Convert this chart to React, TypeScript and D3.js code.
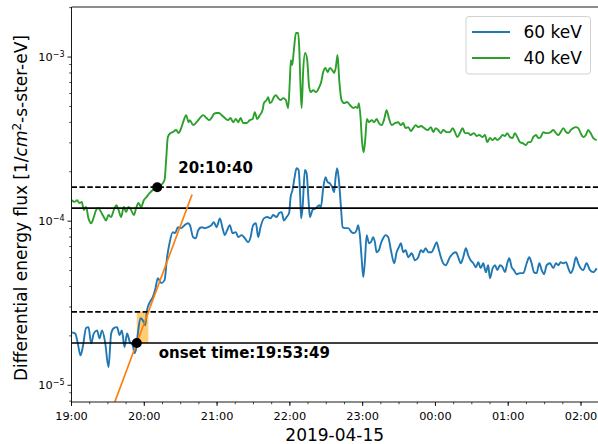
import React from 'react';
import * as d3 from 'd3';

// minutes after 19:00 and flux values
const t60 = [0.2, 3.0, 5.2, 7.4, 9.3, 12.0, 14.0, 16.2, 18.4, 21.1, 23.1, 25.2, 27.7, 30.5, 32.7, 34.9, 37.6, 39.6, 41.5, 43.7, 45.8, 48.1, 50.5, 51.9, 53.3, 54.7, 56.9, 58.8, 60.7, 62.3, 64.6, 67.0, 68.9, 71.2, 73.9, 76.7, 78.8, 80.8, 83.5, 85.4, 87.7, 90.4, 93.2, 95.9, 97.5, 100.3, 102.5, 104.4, 107.2, 109.9, 112.6, 115.4, 117.3, 119.6, 122.3, 124.5, 126.4, 128.3, 130.5, 132.8, 135.5, 137.4, 140.2, 142.9, 145.6, 147.6, 149.7, 152.0, 153.9, 155.8, 158.6, 161.3, 164.1, 166.2, 169.0, 171.2, 173.2, 175.1, 177.3, 179.4, 180.6, 182.2, 183.9, 185.5, 187.2, 188.3, 189.3, 190.5, 192.4, 193.8, 195.4, 196.5, 198.7, 201.5, 204.2, 205.6, 207.5, 209.4, 211.1, 213.0, 214.9, 216.5, 217.7, 219.0, 220.4, 222.1, 223.5, 225.4, 228.1, 230.9, 233.0, 235.0, 236.3, 237.7, 239.1, 240.5, 241.9, 243.3, 245.2, 246.8, 248.7, 250.1, 251.5, 253.4, 255.1, 256.9, 258.9, 261.1, 263.3, 266.0, 268.0, 269.9, 271.5, 273.4, 275.4, 277.6, 280.4, 283.1, 285.8, 288.0, 289.9, 291.9, 294.1, 296.9, 299.0, 301.0, 302.9, 304.5, 306.4, 308.4, 311.9, 314.7, 316.9, 318.8, 320.8, 322.9, 325.1, 327.0, 329.0, 331.2, 333.4, 335.3, 337.3, 339.4, 341.6, 343.5, 344.9, 347.2, 349.1, 351.0, 353.2, 355.4, 357.3, 359.2, 360.9, 362.8, 364.7, 366.9, 369.7, 372.4, 375.2, 377.3, 379.3, 381.2, 383.4, 385.6, 387.6, 389.5, 391.7, 394.4, 397.1, 399.4, 401.3, 403.2, 405.4, 407.6, 409.5, 411.5, 413.6, 415.8, 417.7, 419.7, 421.8, 424.6, 427.4, 430.1, 432.9];
const flux60 = [2.10e-5, 2.07e-5, 1.80e-5, 1.52e-5, 1.71e-5, 2.23e-5, 2.26e-5, 1.80e-5, 2.07e-5, 2.16e-5, 1.93e-5, 2.16e-5, 1.83e-5, 1.29e-5, 2.07e-5, 2.23e-5, 2.26e-5, 2.02e-5, 2.16e-5, 1.71e-5, 2.07e-5, 1.83e-5, 1.75e-5, 1.57e-5, 1.68e-5, 2.07e-5, 2.56e-5, 2.49e-5, 2.32e-5, 2.87e-5, 3.21e-5, 3.44e-5, 3.80e-5, 4.49e-5, 4.19e-5, 4.37e-5, 6.03e-5, 7.34e-5, 8.57e-5, 8.45e-5, 9.19e-5, 9.07e-5, 9.45e-5, 9.72e-5, 9.50e-5, 7.99e-5, 7.87e-5, 8.81e-5, 9.19e-5, 9.07e-5, 9.19e-5, 9.45e-5, 9.86e-5, 9.19e-5, 1.04e-4, 9.07e-5, 8.22e-5, 8.81e-5, 9.45e-5, 8.45e-5, 8.57e-5, 7.99e-5, 8.22e-5, 7.87e-5, 7.45e-5, 7.99e-5, 9.45e-5, 9.72e-5, 7.99e-5, 9.19e-5, 1.04e-4, 1.06e-4, 1.04e-4, 1.09e-4, 1.06e-4, 1.12e-4, 1.135e-4, 1.01e-4, 1.06e-4, 1.12e-4, 1.40e-4, 1.55e-4, 1.85e-4, 2.10e-4, 2.05e-4, 1.55e-4, 1.04e-4, 1.22e-4, 2.05e-4, 1.96e-4, 1.34e-4, 1.06e-4, 1.17e-4, 1.20e-4, 1.25e-4, 1.22e-4, 1.59e-4, 1.85e-4, 1.73e-4, 1.70e-4, 1.61e-4, 1.50e-4, 1.85e-4, 2.10e-4, 1.78e-4, 1.22e-4, 9.19e-5, 9.07e-5, 9.07e-5, 8.57e-5, 8.45e-5, 8.81e-5, 9.45e-5, 8.22e-5, 6.03e-5, 4.56e-5, 5.78e-5, 8.22e-5, 7.34e-5, 7.45e-5, 7.99e-5, 7.45e-5, 6.47e-5, 6.65e-5, 7.34e-5, 7.87e-5, 8.22e-5, 7.99e-5, 6.65e-5, 5.54e-5, 6.47e-5, 6.94e-5, 7.34e-5, 6.47e-5, 6.65e-5, 6.03e-5, 6.38e-5, 5.78e-5, 6.03e-5, 6.65e-5, 6.47e-5, 6.85e-5, 6.47e-5, 6.47e-5, 6.94e-5, 7.45e-5, 6.65e-5, 6.03e-5, 5.54e-5, 5.39e-5, 6.03e-5, 6.38e-5, 6.47e-5, 6.03e-5, 5.54e-5, 6.03e-5, 6.85e-5, 6.20e-5, 5.78e-5, 5.54e-5, 5.24e-5, 5.62e-5, 5.17e-5, 5.54e-5, 4.89e-5, 5.39e-5, 4.49e-5, 5.17e-5, 5.39e-5, 5.03e-5, 5.39e-5, 5.24e-5, 4.89e-5, 5.54e-5, 5.95e-5, 5.24e-5, 5.03e-5, 4.75e-5, 4.82e-5, 4.82e-5, 5.54e-5, 6.03e-5, 5.54e-5, 4.89e-5, 4.82e-5, 5.54e-5, 5.03e-5, 4.75e-5, 5.39e-5, 5.54e-5, 5.17e-5, 5.54e-5, 5.39e-5, 5.62e-5, 5.54e-5, 5.62e-5, 5.17e-5, 4.82e-5, 5.17e-5, 6.03e-5, 5.54e-5, 5.17e-5, 5.03e-5, 5.54e-5, 5.03e-5, 4.89e-5, 5.17e-5];

const t40 = [0.2, 2.5, 4.6, 6.6, 8.5, 10.1, 12.0, 14.0, 16.2, 18.4, 20.3, 22.3, 24.4, 26.6, 28.5, 30.5, 32.7, 34.9, 37.1, 38.8, 40.9, 43.1, 45.0, 47.0, 49.1, 51.4, 53.3, 55.2, 57.4, 59.6, 61.8, 64.3, 67.0, 70.6, 73.9, 76.7, 78.0, 79.4, 81.6, 83.5, 86.3, 88.2, 90.4, 92.6, 94.5, 96.5, 97.5, 100.3, 103.1, 105.8, 108.5, 111.3, 113.5, 115.4, 117.3, 119.6, 121.7, 123.7, 126.4, 129.1, 131.1, 133.3, 135.5, 137.4, 139.4, 141.5, 144.3, 147.0, 149.3, 151.1, 153.0, 155.3, 157.5, 158.6, 160.8, 162.1, 163.5, 164.9, 166.8, 168.5, 170.4, 172.3, 174.5, 176.7, 178.6, 180.0, 180.8, 181.9, 183.3, 185.0, 186.9, 187.7, 188.8, 189.7, 191.0, 192.6, 194.3, 195.9, 197.3, 199.2, 201.5, 204.2, 205.6, 207.5, 209.4, 211.1, 213.0, 214.9, 216.5, 217.9, 219.3, 220.7, 222.6, 224.8, 227.0, 229.5, 232.2, 234.2, 235.8, 236.9, 238.3, 239.4, 240.8, 242.1, 243.5, 245.2, 247.4, 249.5, 251.5, 253.4, 255.6, 257.8, 259.7, 261.6, 263.9, 266.6, 269.3, 271.5, 273.4, 275.4, 277.6, 279.8, 281.7, 283.7, 285.8, 288.0, 290.8, 293.6, 296.3, 298.2, 300.2, 302.3, 304.5, 306.4, 309.2, 311.9, 314.2, 316.1, 318.0, 320.2, 322.4, 324.3, 327.0, 329.0, 331.7, 334.0, 336.1, 338.9, 340.8, 342.7, 344.9, 347.2, 349.1, 351.0, 353.2, 355.4, 357.3, 359.2, 361.4, 363.6, 365.5, 367.5, 369.7, 371.9, 374.6, 376.5, 378.5, 380.6, 382.9, 384.8, 386.7, 388.9, 391.1, 393.0, 395.0, 397.1, 399.4, 401.3, 403.2, 405.4, 407.6, 409.5, 411.5, 413.6, 415.8, 417.7, 419.7, 421.8, 424.0, 425.9, 427.9, 430.1, 432.9];
const flux40 = [1.34e-4, 1.31e-4, 1.34e-4, 1.29e-4, 1.31e-4, 1.17e-4, 1.22e-4, 1.04e-4, 9.72e-5, 1.06e-4, 1.17e-4, 1.20e-4, 1.135e-4, 1.06e-4, 1.01e-4, 1.09e-4, 1.06e-4, 1.17e-4, 1.25e-4, 1.17e-4, 1.06e-4, 1.22e-4, 1.135e-4, 1.22e-4, 1.17e-4, 1.09e-4, 1.20e-4, 1.29e-4, 1.22e-4, 1.34e-4, 1.40e-4, 1.48e-4, 1.55e-4, 1.61e-4, 1.66e-4, 1.78e-4, 2.35e-4, 3.25e-4, 3.44e-4, 3.49e-4, 3.59e-4, 3.44e-4, 3.69e-4, 4.13e-4, 4.43e-4, 4.01e-4, 4.13e-4, 3.85e-4, 4.01e-4, 4.25e-4, 4.43e-4, 4.25e-4, 4.13e-4, 4.25e-4, 4.49e-4, 4.56e-4, 4.56e-4, 4.43e-4, 4.25e-4, 4.13e-4, 4.25e-4, 4.01e-4, 4.19e-4, 4.01e-4, 4.25e-4, 3.96e-4, 3.96e-4, 4.13e-4, 4.19e-4, 4.62e-4, 4.19e-4, 4.43e-4, 4.75e-4, 5.24e-4, 5.47e-4, 5.70e-4, 5.24e-4, 5.32e-4, 5.70e-4, 5.86e-4, 5.62e-4, 5.47e-4, 5.62e-4, 5.47e-4, 4.89e-4, 7.24e-4, 9.58e-4, 8.94e-4, 1.10e-3, 1.40e-3, 1.40e-3, 1.15e-3, 6.56e-4, 4.89e-4, 8.33e-4, 1.06e-3, 9.58e-4, 6.56e-4, 6.12e-4, 6.29e-4, 6.12e-4, 6.56e-4, 6.94e-4, 8.10e-4, 8.57e-4, 8.10e-4, 8.57e-4, 8.33e-4, 7.99e-4, 8.69e-4, 1.03e-3, 7.24e-4, 5.47e-4, 5.24e-4, 5.32e-4, 5.10e-4, 4.89e-4, 4.96e-4, 4.89e-4, 5.24e-4, 4.25e-4, 3.12e-4, 2.63e-4, 3.12e-4, 4.19e-4, 4.01e-4, 4.13e-4, 4.01e-4, 4.19e-4, 3.96e-4, 3.85e-4, 4.19e-4, 4.75e-4, 4.25e-4, 3.85e-4, 3.96e-4, 4.01e-4, 3.85e-4, 3.96e-4, 3.69e-4, 3.74e-4, 3.54e-4, 3.69e-4, 3.85e-4, 3.74e-4, 3.80e-4, 3.69e-4, 3.59e-4, 3.74e-4, 3.49e-4, 3.69e-4, 3.59e-4, 3.44e-4, 3.59e-4, 3.49e-4, 3.49e-4, 3.69e-4, 3.49e-4, 3.25e-4, 3.44e-4, 3.69e-4, 3.44e-4, 3.44e-4, 3.35e-4, 3.44e-4, 3.30e-4, 3.35e-4, 3.25e-4, 3.35e-4, 3.03e-4, 3.21e-4, 3.12e-4, 3.21e-4, 3.12e-4, 3.21e-4, 3.35e-4, 3.30e-4, 3.44e-4, 3.25e-4, 3.21e-4, 3.44e-4, 3.25e-4, 3.03e-4, 2.99e-4, 2.91e-4, 3.03e-4, 3.03e-4, 3.25e-4, 3.35e-4, 3.21e-4, 3.25e-4, 3.49e-4, 3.44e-4, 3.44e-4, 3.49e-4, 3.59e-4, 3.44e-4, 3.35e-4, 3.49e-4, 3.69e-4, 3.49e-4, 3.44e-4, 3.59e-4, 3.69e-4, 3.74e-4, 3.69e-4, 3.44e-4, 3.25e-4, 3.35e-4, 3.59e-4, 3.44e-4, 3.21e-4, 3.12e-4];

// thresholds (solid = background level, dashed = trigger level)
const level60 = 1.81e-5;
const trigger60 = 2.8e-5;
const level40 = 1.2e-4;
const trigger40 = 1.61e-4;

// onset markers
const onset60 = { t: 53.82, v: 1.81e-5, label: 'onset time:19:53:49' };
const onset40 = { t: 70.67, v: 1.61e-4, label: '20:10:40' };

// linear fit in log space through the 60 keV onset
const fitSlope = 0.01986; // decades per minute
const fitRange = [35.7, 99.4];

const hourLabels = ['19:00', '20:00', '21:00', '22:00', '23:00', '00:00', '01:00', '02:00'];
const endMinutes = 434;
const yDomain = [Math.pow(10, -5.102), Math.pow(10, -2.695)];

const W = 598;
const H = 444;
const margin = { top: 7, right: 0, bottom: 42, left: 71.5 };
const FONT = 'DejaVu Sans, sans-serif';

const base = new Date(2019, 3, 14, 19, 0, 0);
const at = (m: number) => new Date(base.getTime() + m * 60000);

const App: React.FC = () => {
  const innerW = W - margin.left - margin.right;
  const innerH = H - margin.top - margin.bottom;

  const x = d3.scaleTime().domain([base, at(endMinutes)]).range([margin.left, margin.left + innerW]);
  const y = d3.scaleLog().domain(yDomain).range([margin.top + innerH, margin.top]);

  const majorX = x.ticks(d3.timeHour.every(1) as d3.TimeInterval);
  const minorX = x.ticks(d3.timeMinute.every(15) as d3.TimeInterval);
  const yTicks = y.ticks();
  const majorY = yTicks.filter(v => Math.abs(Math.log10(v) - Math.round(Math.log10(v))) < 1e-9);
  const minorY = yTicks.filter(v => !majorY.includes(v));

  const line = d3.line<[number, number]>()
    .x(d => x(at(d[0])))
    .y(d => y(d[1]))
    .curve(d3.curveMonotoneX);

  const straight = d3.line<[number, number]>()
    .x(d => x(at(d[0])))
    .y(d => y(d[1]));

  const s60: [number, number][] = t60.map((t, i) => [t, flux60[i]]);
  const s40: [number, number][] = t40.map((t, i) => [t, flux40[i]]);
  const fitAt = (t: number) => onset60.v * Math.pow(10, fitSlope * (t - onset60.t));
  const fitPts: [number, number][] = fitRange.map(t => [t, fitAt(t)] as [number, number]);
  const crossT = onset60.t + Math.log10(trigger60 / onset60.v) / fitSlope;

  const x0 = margin.left;
  const x1 = margin.left + innerW;
  const yBottom = margin.top + innerH;

  return (
    <div style={{ position: 'absolute', left: 0, top: 0 }}>
      <svg width={W} height={H} style={{ display: 'block', background: '#fff' }} fontFamily={FONT}>
        <defs>
          <clipPath id="plot">
            <rect x={x0} y={margin.top} width={innerW} height={innerH} />
          </clipPath>
        </defs>

        <g clipPath="url(#plot)">
          <rect
            x={x(at(onset60.t))}
            y={y(trigger60)}
            width={x(at(crossT)) - x(at(onset60.t))}
            height={y(level60) - y(trigger60)}
            fill="#ffa500"
            opacity={0.55}
          />
          <path d={line(s60) || ''} fill="none" stroke="#1f77b4" strokeWidth={1.9} strokeLinejoin="round" />
          <path d={line(s40) || ''} fill="none" stroke="#2ca02c" strokeWidth={1.9} strokeLinejoin="round" />
          {[level60, level40].map(v => (
            <line key={'s' + v} x1={x0} x2={x1} y1={y(v)} y2={y(v)} stroke="#000" strokeWidth={1.7} />
          ))}
          {[trigger60, trigger40].map(v => (
            <line key={'d' + v} x1={x0} x2={x1} y1={y(v)} y2={y(v)} stroke="#000" strokeWidth={1.7} strokeDasharray="5.5,2.4" />
          ))}
          <path d={straight(fitPts) || ''} fill="none" stroke="#ff7f0e" strokeWidth={1.7} />
          <circle cx={x(at(onset60.t))} cy={y(onset60.v)} r={5} fill="#000" />
          <circle cx={x(at(onset40.t))} cy={y(onset40.v)} r={5} fill="#000" />
        </g>

        <text x={x(at(onset60.t)) + 22} y={y(onset60.v) + 15} fontSize={15} fontWeight="bold">{onset60.label}</text>
        <text x={x(at(onset40.t)) + 21} y={y(onset40.v) - 14.5} fontSize={15} fontWeight="bold">{onset40.label}</text>

        {/* frame */}
        <line x1={x0} x2={x0} y1={margin.top} y2={yBottom} stroke="#000" strokeWidth={0.9} />
        <line x1={x0} x2={x1} y1={yBottom} y2={yBottom} stroke="#000" strokeWidth={0.9} />
        <line x1={x0} x2={x1} y1={margin.top} y2={margin.top} stroke="#000" strokeWidth={0.9} />

        {/* x ticks */}
        {minorX.map((d, i) => (
          <line key={'mx' + i} x1={x(d)} x2={x(d)} y1={yBottom} y2={yBottom + 2.3} stroke="#000" strokeWidth={0.7} />
        ))}
        {majorX.map((d, i) => (
          <g key={'Mx' + i}>
            <line x1={x(d)} x2={x(d)} y1={yBottom} y2={yBottom + 4} stroke="#000" strokeWidth={0.9} />
            <text x={x(d)} y={yBottom + 18} fontSize={11.3} textAnchor="middle">{hourLabels[i]}</text>
          </g>
        ))}

        {/* y ticks */}
        {minorY.map((v, i) => (
          <line key={'my' + i} x1={x0 - 2.3} x2={x0} y1={y(v)} y2={y(v)} stroke="#000" strokeWidth={0.7} />
        ))}
        {majorY.map((v, i) => (
          <g key={'My' + i}>
            <line x1={x0 - 4} x2={x0} y1={y(v)} y2={y(v)} stroke="#000" strokeWidth={0.9} />
            <text x={x0 - 7} y={y(v) + 4} fontSize={11.3} textAnchor="end">
              10<tspan dy={-4.5} fontSize={8}>{'\u2212' + Math.abs(Math.round(Math.log10(v)))}</tspan>
            </text>
          </g>
        ))}

        {/* axis labels */}
        <text x={(x0 + x1) / 2} y={441} fontSize={17} textAnchor="middle">2019-04-15</text>
        <text transform="translate(26.5,208) rotate(-90)" fontSize={17} textAnchor="middle">
          Differential energy flux [1/<tspan fontStyle="italic">cm</tspan><tspan dy={-6} fontSize={12}>2</tspan><tspan dy={6}>-s-ster-eV]</tspan>
        </text>

        {/* legend */}
        <rect x={466} y={16.5} width={124.5} height={57.5} rx={3} fill="#fff" fillOpacity={0.8} stroke="#cccccc" strokeWidth={0.9} />
        <line x1={472} x2={510} y1={32} y2={32} stroke="#1f77b4" strokeWidth={1.9} />
        <text x={523.5} y={38} fontSize={17}>60 keV</text>
        <line x1={472} x2={510} y1={58} y2={58} stroke="#2ca02c" strokeWidth={1.9} />
        <text x={523.5} y={64} fontSize={17}>40 keV</text>
      </svg>
    </div>
  );
};

export default App;
